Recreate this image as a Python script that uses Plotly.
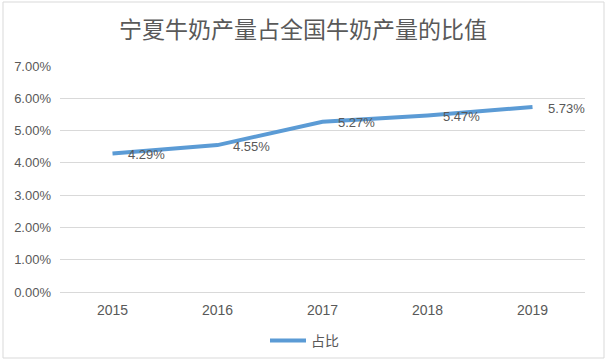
import plotly.graph_objects as go

years = ["2015", "2016", "2017", "2018", "2019"]
share = [4.29, 4.55, 5.27, 5.47, 5.73]
labels = ["4.29%", "4.55%", "5.27%", "5.47%", "5.73%"]
yticks = [0, 1, 2, 3, 4, 5, 6, 7]
yticklabels = ["0.00%", "1.00%", "2.00%", "3.00%", "4.00%", "5.00%", "6.00%", "7.00%"]

W, H = 607, 363
ml, mr, mt, mb = 60, 22, 66, 71
pw, ph = W - ml - mr, H - mt - mb

font = "Noto Sans CJK SC, Liberation Sans, Arial, sans-serif"
gray = "#595959"

fig = go.Figure()
fig.add_trace(go.Scatter(
    x=years, y=share, mode="lines", name="占比",
    line=dict(color="#5B9BD5", width=4),
))
for i, (y, t) in enumerate(zip(share, labels)):
    fig.add_annotation(x=i, y=y, xref="x", yref="y", text=t, showarrow=False, xanchor="left",
                       yanchor="middle", xshift=13, yshift=-1,
                       font=dict(family="Liberation Sans, Arial", size=13, color=gray))

def px2x(p):
    return (p - ml) / pw

def px2y(p):
    return (H - mb - p) / ph

fig.add_shape(type="rect", xref="paper", yref="paper",
              x0=px2x(3), x1=px2x(604), y0=px2y(358), y1=px2y(2),
              line=dict(color="#D9D9D9", width=1), fillcolor="rgba(0,0,0,0)", layer="below")

fig.update_layout(
    width=W, height=H,
    margin=dict(l=ml, r=mr, t=mt, b=mb, autoexpand=False),
    paper_bgcolor="white", plot_bgcolor="white",
    title=dict(text="宁夏牛奶产量占全国牛奶产量的比值", x=303 / W, xref="container", xanchor="center",
               y=1 - 30 / H, yref="container", yanchor="middle",
               font=dict(family=font, size=23, color=gray)),
    showlegend=True,
    legend=dict(orientation="h", x=px2x(265), xanchor="left", y=px2y(341), yanchor="middle",
                font=dict(family=font, size=14, color=gray), itemwidth=36),
    xaxis=dict(type="category", showgrid=False, showline=True, linecolor="#D9D9D9",
               tickfont=dict(family="Liberation Sans, Arial", size=14, color=gray),
               ticks="", range=[-0.5, 4.5], automargin=False, ticklabelstandoff=5),
    yaxis=dict(range=[0, 7], tickvals=yticks, ticktext=yticklabels, showgrid=True,
               gridcolor="#D9D9D9", zeroline=False, showline=False,
               tickfont=dict(family="Liberation Sans, Arial", size=13, color=gray),
               ticks="", ticklabelstandoff=8, automargin=False),
)

fig.write_html("out.html", config={"displayModeBar": False},
               post_script="document.body.style.margin='0';document.body.style.overflow='hidden';")
